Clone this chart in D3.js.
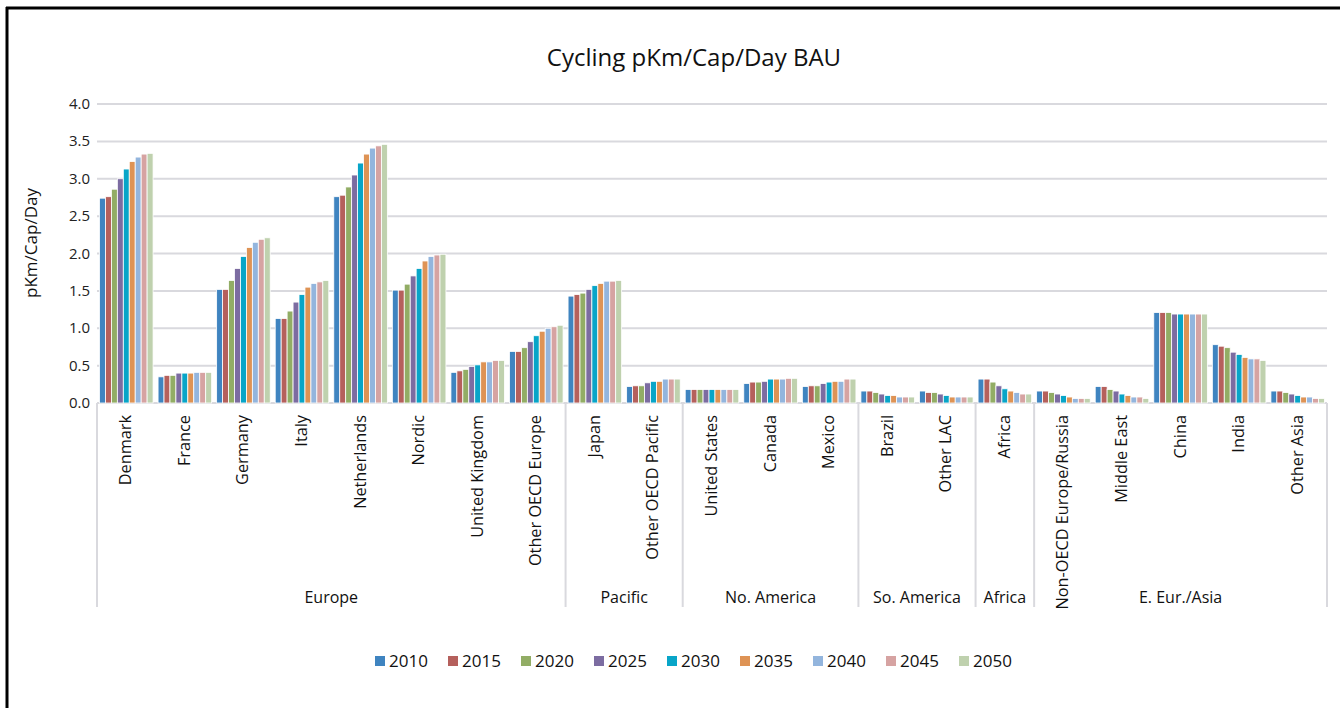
<html>
<head>
<meta charset="utf-8">
<title>Cycling pKm/Cap/Day BAU</title>
<script src="https://cdn.jsdelivr.net/npm/d3@7"></script>
<style>
  body { margin: 0; background: #fff; }
  svg { display: block; font-family: "Open Sans", "Noto Sans", sans-serif; }
  .grid line { stroke: #d9d9de; stroke-width: 2; }
  .ytick text { font-size: 15px; fill: #222; }
  .cat { font-size: 16.3px; fill: #111; }
  .grp { font-size: 16px; fill: #111; }
  .sep { stroke: #d9d9de; stroke-width: 2; }
</style>
</head>
<body>
<svg id="chart" width="1340" height="708"></svg>
<script>
// data
var years = ["2010", "2015", "2020", "2025", "2030", "2035", "2040", "2045", "2050"];
var colors = ["#3f84c0", "#b5605c", "#92ad65", "#7c6ca1", "#08a5c8", "#de9355", "#93b5dd", "#d6a3a2", "#bfd1ae"];

var categories = ["Denmark", "France", "Germany", "Italy", "Netherlands", "Nordic", "United Kingdom", "Other OECD Europe",
  "Japan", "Other OECD Pacific",
  "United States", "Canada", "Mexico",
  "Brazil", "Other LAC",
  "Africa",
  "Non-OECD Europe/Russia", "Middle East", "China", "India", "Other Asia"];

var groups = ["Europe", "Pacific", "No. America", "So. America", "Africa", "E. Eur./Asia"];
var groupSizes = [8, 2, 3, 2, 1, 5];

var yTicks = [0, 0.5, 1.0, 1.5, 2.0, 2.5, 3.0, 3.5, 4.0];

// one row per category, one value per year
var values = [
  [2.74, 2.76, 2.86, 3.00, 3.13, 3.23, 3.29, 3.33, 3.34],
  [0.35, 0.37, 0.37, 0.40, 0.40, 0.40, 0.41, 0.41, 0.41],
  [1.52, 1.52, 1.64, 1.80, 1.96, 2.08, 2.15, 2.19, 2.21],
  [1.13, 1.13, 1.23, 1.35, 1.45, 1.55, 1.60, 1.62, 1.64],
  [2.76, 2.78, 2.89, 3.05, 3.21, 3.33, 3.41, 3.44, 3.46],
  [1.51, 1.51, 1.59, 1.70, 1.80, 1.90, 1.96, 1.98, 1.99],
  [0.41, 0.43, 0.45, 0.49, 0.51, 0.55, 0.55, 0.57, 0.57],
  [0.69, 0.69, 0.74, 0.82, 0.90, 0.96, 1.00, 1.02, 1.04],
  [1.43, 1.45, 1.47, 1.52, 1.57, 1.60, 1.63, 1.63, 1.64],
  [0.22, 0.23, 0.23, 0.27, 0.29, 0.29, 0.32, 0.32, 0.32],
  [0.18, 0.18, 0.18, 0.18, 0.18, 0.18, 0.18, 0.18, 0.18],
  [0.26, 0.28, 0.28, 0.29, 0.32, 0.32, 0.32, 0.33, 0.33],
  [0.22, 0.23, 0.23, 0.26, 0.28, 0.29, 0.29, 0.32, 0.32],
  [0.16, 0.16, 0.14, 0.12, 0.10, 0.10, 0.08, 0.08, 0.08],
  [0.16, 0.14, 0.14, 0.12, 0.10, 0.08, 0.08, 0.08, 0.08],
  [0.32, 0.32, 0.28, 0.23, 0.19, 0.16, 0.14, 0.12, 0.12],
  [0.16, 0.16, 0.14, 0.12, 0.10, 0.08, 0.06, 0.06, 0.06],
  [0.22, 0.22, 0.18, 0.16, 0.12, 0.10, 0.08, 0.08, 0.06],
  [1.21, 1.21, 1.21, 1.19, 1.19, 1.19, 1.19, 1.19, 1.19],
  [0.78, 0.76, 0.74, 0.68, 0.65, 0.61, 0.59, 0.59, 0.57],
  [0.16, 0.16, 0.14, 0.12, 0.10, 0.08, 0.08, 0.06, 0.06]
];

var svg = d3.select("#chart");
var plotLeft = 97, plotRight = 1327, plotTop = 104, plotBottom = 403;

var x = d3.scaleBand().domain(categories).range([plotLeft, plotRight]).padding(0);
var xInner = d3.scaleBand().domain(years).range([0, x.bandwidth()]).paddingInner(0).paddingOuter(0.42);
var y = d3.scaleLinear().domain([0, 4]).range([plotBottom, plotTop]);

// frame (top and left only)
svg.append("line").attr("x1", 6).attr("x2", 1340).attr("y1", 8).attr("y2", 8)
  .attr("stroke", "#000").attr("stroke-width", 3);
svg.append("line").attr("x1", 7).attr("x2", 7).attr("y1", 7).attr("y2", 708)
  .attr("stroke", "#000").attr("stroke-width", 3);

// title
svg.append("text").attr("x", 694).attr("y", 66).attr("text-anchor", "middle")
  .style("font-size", "24px").style("fill", "#111").text("Cycling pKm/Cap/Day BAU");

// gridlines + tick labels
var grid = svg.append("g").attr("class", "grid");
grid.selectAll("line").data(yTicks).enter().append("line")
  .attr("x1", plotLeft).attr("x2", plotRight)
  .attr("y1", function(d) { return y(d); })
  .attr("y2", function(d) { return y(d); });

svg.append("g").attr("class", "ytick").selectAll("text").data(yTicks).enter().append("text")
  .attr("x", 90).attr("y", function(d) { return y(d) + 5; })
  .attr("text-anchor", "end")
  .text(function(d) { return d3.format(".1f")(d); });

svg.append("text").attr("transform", "translate(37,243) rotate(-90)")
  .attr("text-anchor", "middle").style("font-size", "17px").style("fill", "#111")
  .text("pKm/Cap/Day");

// bars
var catG = svg.append("g").selectAll("g").data(values).enter().append("g")
  .attr("transform", function(d, i) { return "translate(" + x(categories[i]) + ",0)"; });

catG.selectAll("rect").data(function(d) { return d; }).enter().append("rect")
  .attr("x", function(d, i) { return xInner(years[i]); })
  .attr("width", xInner.bandwidth())
  .attr("y", function(d) { return y(d); })
  .attr("height", function(d) { return y(0) - y(d); })
  .attr("fill", function(d, i) { return colors[i]; })
  .attr("stroke", "#fff").attr("stroke-width", 0.8);

// category labels
svg.append("g").selectAll("text").data(categories).enter().append("text")
  .attr("class", "cat")
  .attr("transform", function(d) {
    return "translate(" + (x(d) + x.bandwidth() / 2 + 5) + ",415) rotate(-90)";
  })
  .attr("text-anchor", "end")
  .text(function(d) { return d; });

// group separators and labels
var bounds = [0];
groupSizes.forEach(function(n, i) { bounds.push(bounds[i] + n); });

svg.selectAll(".sep").data(bounds).enter().append("line")
  .attr("class", "sep")
  .attr("x1", function(b) { return b < categories.length ? x(categories[b]) : plotRight; })
  .attr("x2", function(b) { return b < categories.length ? x(categories[b]) : plotRight; })
  .attr("y1", plotBottom).attr("y2", 607);

svg.append("g").selectAll("text").data(groups).enter().append("text")
  .attr("class", "grp")
  .attr("x", function(g, i) {
    var a = x(categories[bounds[i]]);
    var b = bounds[i + 1] < categories.length ? x(categories[bounds[i + 1]]) : plotRight;
    return (a + b) / 2;
  })
  .attr("y", 603)
  .attr("text-anchor", "middle")
  .text(function(g) { return g; });

// legend
var leg = svg.append("g").selectAll("g").data(years).enter().append("g")
  .attr("transform", function(d, i) { return "translate(" + (375 + i * 73) + ",661)"; });
leg.append("rect").attr("x", 0).attr("y", -5).attr("width", 10).attr("height", 10)
  .attr("fill", function(d, i) { return colors[i]; });
leg.append("text").attr("x", 14).attr("y", 6).style("font-size", "17px").style("fill", "#111")
  .text(function(d) { return d; });
</script>
</body>
</html>
